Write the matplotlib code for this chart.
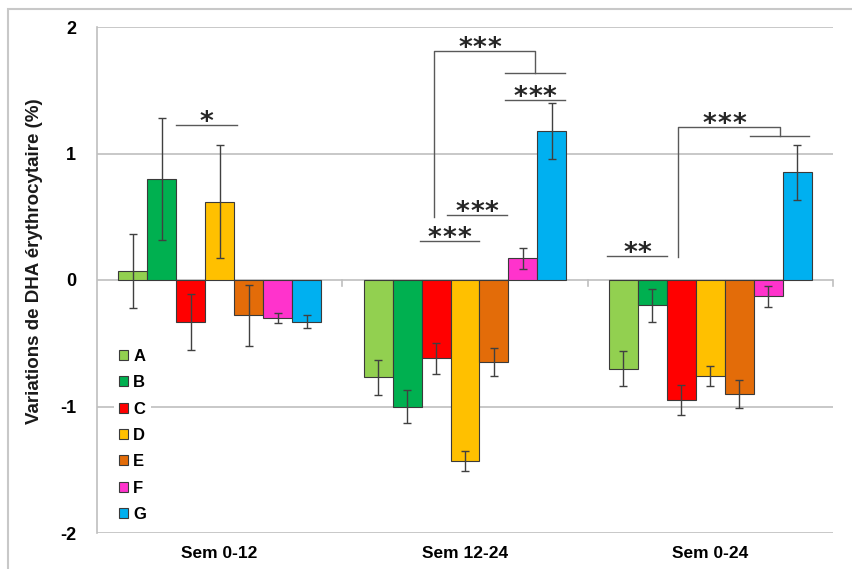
import matplotlib
matplotlib.use("Agg")
import matplotlib.pyplot as plt
from matplotlib.patches import Patch, Rectangle
import numpy as np

plt.rcParams['font.family'] = ['Liberation Sans', 'DejaVu Sans']

groups = ["Sem 0-12", "Sem 12-24", "Sem 0-24"]
series = ["A", "B", "C", "D", "E", "F", "G"]
colors = ["#92D050", "#00B050", "#FF0000", "#FFC000", "#E36C09", "#FF33CC", "#00B0F0"]

values = {
    "A": [0.07, -0.77, -0.70],
    "B": [0.80, -1.00, -0.20],
    "C": [-0.33, -0.62, -0.95],
    "D": [0.62, -1.43, -0.76],
    "E": [-0.28, -0.65, -0.90],
    "F": [-0.30, 0.17, -0.13],
    "G": [-0.33, 1.18, 0.85],
}
errors = {
    "A": [0.29, 0.14, 0.14],
    "B": [0.48, 0.13, 0.13],
    "C": [0.22, 0.12, 0.12],
    "D": [0.45, 0.08, 0.08],
    "E": [0.24, 0.11, 0.11],
    "F": [0.04, 0.08, 0.08],
    "G": [0.05, 0.22, 0.22],
}

# significance lines: (x0, x1, y, label)
sig_lines = [
    (-0.176, 0.069, 1.225, "*"),
    (0.816, 1.057, 0.31, "***"),
    (0.927, 1.171, 0.51, "***"),
    (1.163, 1.408, 1.42, "***"),
    (1.580, 1.824, 0.19, "**"),
]
# brackets: (x_left, y_left_bottom, x_right, y_top, y_right_bottom, sub_x0, sub_x1, label)
brackets = [
    (0.873, 0.50, 1.286, 1.81, 1.64, 1.163, 1.408, "***"),
    (1.869, 0.18, 2.286, 1.21, 1.14, 2.163, 2.404, "***"),
]

fig = plt.figure(figsize=(8.53, 5.69), dpi=100)
ax = fig.add_axes([97/853, 1-533/569, 736/853, 506/569])

# outer figure frame
fig.patches.append(Rectangle((8/853, -0.05), 1.2, 1-9/569+0.05, transform=fig.transFigure,
                             fill=False, edgecolor="#C8C8C8", linewidth=1.5, zorder=0))

x = np.arange(len(groups))
w = 0.118
for i, s in enumerate(series):
    pos = x + (i - 3) * w
    ax.bar(pos, values[s], width=w, color=colors[i], edgecolor="#3a3a3a", linewidth=0.8, zorder=3)
    ax.errorbar(pos, values[s], yerr=errors[s], fmt="none", ecolor="#404040",
                elinewidth=1, capsize=3, capthick=1, zorder=4)

ax.set_xlim(-0.5, 2.5)
ax.set_ylim(-2, 2)
for yv in [-2, -1, 0, 1, 2]:
    ax.axhline(yv, color="#BFBFBF", linewidth=1.2, zorder=1)
for xv in [0.5, 1.5, 2.5]:
    ax.plot([xv, xv], [0, -0.045], color="#BFBFBF", linewidth=1.2, zorder=1, clip_on=False)

for sp in ["top", "right", "bottom"]:
    ax.spines[sp].set_visible(False)
ax.spines["left"].set_color("#BFBFBF")
ax.spines["left"].set_linewidth(1.2)

ax.set_yticks([-2, -1, 0, 1, 2])
ax.set_yticklabels(["-2", "-1", "0", "1", "2"], fontsize=13, fontweight="bold")
ax.tick_params(axis="y", length=0, pad=15)
ax.set_xticks(x)
ax.set_xticklabels(groups, fontsize=12.5, fontweight="bold")
ax.tick_params(axis="x", length=0, pad=9)
fig.text(35/853, 1-261/569, "Variations de DHA érythrocytaire (%)", rotation=90,
         ha="center", va="center", fontsize=13.5, fontweight="bold", color="#1a1a1a")

lc = "#595959"
def star(xc, y, label):
    n = len(label)
    step = 10.5  # points between stars
    for k in range(n):
        dx = (k - (n - 1) / 2) * step
        ax.annotate("*", (xc, y), xytext=(dx, -3.6), textcoords="offset points",
                    ha="center", va="baseline", fontsize=19, fontweight="bold",
                    color="#262626", family="DejaVu Sans", zorder=5)

for x0, x1, y, lab in sig_lines:
    ax.plot([x0, x1], [y, y], color=lc, linewidth=1, zorder=5)
    star((x0 + x1) / 2, y, lab)

for xl, yl, xr, yt, yr, sx0, sx1, lab in brackets:
    ax.plot([xl, xl, xr, xr], [yl, yt, yt, yr], color=lc, linewidth=1, zorder=5)
    ax.plot([sx0, sx1], [yr, yr], color=lc, linewidth=1, zorder=5)
    star((xl + xr) / 2 - 0.02, yt, lab)

handles = [Patch(facecolor=colors[i], edgecolor="#3a3a3a", linewidth=0.8) for i in range(len(series))]
leg = ax.legend(handles, series, loc="upper left", bbox_to_anchor=(0.012, 0.39),
                frameon=True, facecolor="white", edgecolor="none", framealpha=1,
                prop={"weight": "bold", "size": 12}, handlelength=0.55, handleheight=0.55,
                handletextpad=0.3, labelspacing=0.68, borderpad=0.3)
leg.set_zorder(6)

fig.savefig("out.png", dpi=100)
